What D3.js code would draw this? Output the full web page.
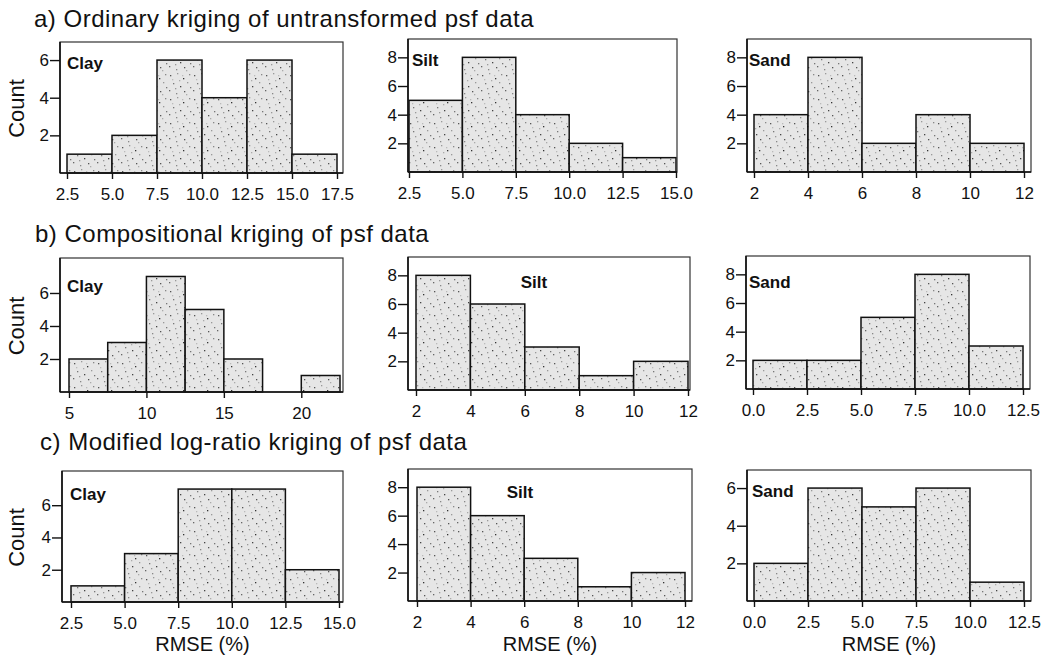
<!DOCTYPE html>
<html>
<head>
<meta charset="utf-8">
<script src="https://cdn.jsdelivr.net/npm/d3@7"></script>
<style>
  body { margin: 0; background: #fff; }
  svg { display: block; font-family: "Liberation Sans", Arial, sans-serif; }
</style>
</head>
<body>
<div id="canvas"></div>
<script>
// row titles
var rowTitles = [
  "a) Ordinary kriging of untransformed psf data",
  "b) Compositional kriging of psf data",
  "c) Modified log-ratio kriging of psf data"
];
var fractions = ["Clay", "Silt", "Sand"];

// bin edges and counts
var clayA_edges = [2.5, 5, 7.5, 10, 12.5, 15, 17.5];
var clayA_counts = [1, 2, 6, 4, 6, 1];
var siltA_edges = [2.5, 5, 7.5, 10, 12.5, 15];
var siltA_counts = [5, 8, 4, 2, 1];
var sandA_edges = [2, 4, 6, 8, 10, 12];
var sandA_counts = [4, 8, 2, 4, 2];

var clayB_edges = [5, 7.5, 10, 12.5, 15, 17.5, 20, 22.5];
var clayB_counts = [2, 3, 7, 5, 2, 0, 1];
var siltB_edges = [2, 4, 6, 8, 10, 12];
var siltB_counts = [8, 6, 3, 1, 2];
var sandB_edges = [0, 2.5, 5, 7.5, 10, 12.5];
var sandB_counts = [2, 2, 5, 8, 3];

var clayC_edges = [2.5, 5, 7.5, 10, 12.5, 15];
var clayC_counts = [1, 3, 7, 7, 2];
var siltC_edges = [2, 4, 6, 8, 10, 12];
var siltC_counts = [8, 6, 3, 1, 2];
var sandC_edges = [0, 2.5, 5, 7.5, 10, 12.5];
var sandC_counts = [2, 6, 5, 6, 1];

// x tick labels
var clayA_ticks = [2.5, 5, 7.5, 10, 12.5, 15, 17.5];
var siltA_ticks = [2.5, 5, 7.5, 10, 12.5, 15];
var sandA_ticks = [2, 4, 6, 8, 10, 12];
var clayB_ticks = [5, 10, 15, 20];
var siltB_ticks = [2, 4, 6, 8, 10, 12];
var sandB_ticks = [0, 2.5, 5, 7.5, 10, 12.5];
var clayC_ticks = [2.5, 5, 7.5, 10, 12.5, 15];
var siltC_ticks = [2, 4, 6, 8, 10, 12];
var sandC_ticks = [0, 2.5, 5, 7.5, 10, 12.5];
var yTicks = [2, 4, 6, 8];

var W = 1054, H = 662;

// panel frames and layout
var panels = [
  {row:0, col:0, edges:clayA_edges, counts:clayA_counts, ticks:clayA_ticks, fmt:".1f", fx:[60,343], fy:[42,173], rx:[67,337], lab:{x:67, y:63}},
  {row:0, col:1, edges:siltA_edges, counts:siltA_counts, ticks:siltA_ticks, fmt:".1f", fx:[408,677], fy:[39,172], rx:[409,676], lab:{x:412, y:60}},
  {row:0, col:2, edges:sandA_edges, counts:sandA_counts, ticks:sandA_ticks, fmt:"d", fx:[747,1031], fy:[39,172], rx:[754,1024], lab:{x:749, y:60}},
  {row:1, col:0, edges:clayB_edges, counts:clayB_counts, ticks:clayB_ticks, fmt:"d", fx:[60,343], fy:[258,392], rx:[69,340], lab:{x:67, y:286}},
  {row:1, col:1, edges:siltB_edges, counts:siltB_counts, ticks:siltB_ticks, fmt:"d", fx:[408,690], fy:[257,390], rx:[416,688], lab:{x:534, y:282, mid:true}},
  {row:1, col:2, edges:sandB_edges, counts:sandB_counts, ticks:sandB_ticks, fmt:".1f", fx:[746,1030], fy:[256,389], rx:[753,1023], lab:{x:749, y:282}},
  {row:2, col:0, edges:clayC_edges, counts:clayC_counts, ticks:clayC_ticks, fmt:".1f", fx:[62,343], fy:[471,602], rx:[71,339], lab:{x:70, y:494}},
  {row:2, col:1, edges:siltC_edges, counts:siltC_counts, ticks:siltC_ticks, fmt:"d", fx:[408,692], fy:[469,601], rx:[417,685], lab:{x:520, y:492, mid:true}},
  {row:2, col:2, edges:sandC_edges, counts:sandC_counts, ticks:sandC_ticks, fmt:".1f", fx:[747,1031], fy:[470,601], rx:[754,1024], lab:{x:752, y:491}}
];

var svg = d3.select("#canvas").append("svg")
  .attr("width", W).attr("height", H);

// stipple texture for the bars
var defs = svg.append("defs");
var pat = defs.append("pattern")
  .attr("id", "stipple")
  .attr("patternUnits", "userSpaceOnUse")
  .attr("width", 24).attr("height", 24);
pat.append("rect").attr("width", 24).attr("height", 24).attr("fill", "#e6e6e6");
var specks = [[2,3,"#555"],[9,1,"#999"],[15,6,"#333"],[21,2,"#888"],[5,11,"#777"],[12,14,"#444"],
              [19,10,"#999"],[1,18,"#666"],[8,21,"#888"],[16,19,"#555"],[22,15,"#777"],[11,8,"#aaa"],
              [4,7,"#bbb"],[18,22,"#aaa"],[7,16,"#999"],[14,3,"#bbb"]];
pat.selectAll("rect.s").data(specks).enter().append("rect")
  .attr("class", "s")
  .attr("x", function(d){ return d[0]; })
  .attr("y", function(d){ return d[1]; })
  .attr("width", 1.3).attr("height", 1.3)
  .attr("fill", function(d){ return d[2]; });

// row titles
var titleY = [27, 242, 450];
var titleX = [34, 35, 40];
svg.selectAll("text.title").data(rowTitles).enter().append("text")
  .attr("class", "title")
  .attr("x", function(d,i){ return titleX[i]; })
  .attr("y", function(d,i){ return titleY[i]; })
  .attr("font-size", "24px")
  .attr("letter-spacing", "0.5px")
  .attr("fill", "#111")
  .text(function(d){ return d; });

panels.forEach(function(p){
  var g = svg.append("g");
  var ymax = d3.max(p.counts) * 1.16;
  var x = d3.scaleLinear().domain([p.edges[0], p.edges[p.edges.length-1]]).range(p.rx);
  var y = d3.scaleLinear().domain([0, ymax]).range([p.fy[1], p.fy[0]]);

  var bins = p.counts.map(function(c, i){ return {x0:p.edges[i], x1:p.edges[i+1], n:c}; })
    .filter(function(b){ return b.n > 0; });

  g.selectAll("rect.bar").data(bins).enter().append("rect")
    .attr("class", "bar")
    .attr("x", function(d){ return x(d.x0); })
    .attr("y", function(d){ return y(d.n); })
    .attr("width", function(d){ return x(d.x1) - x(d.x0); })
    .attr("height", function(d){ return y(0) - y(d.n); })
    .attr("fill", "url(#stipple)")
    .attr("stroke", "#111")
    .attr("stroke-width", 1.5);

  // frame
  g.append("rect")
    .attr("x", p.fx[0]).attr("y", p.fy[0])
    .attr("width", p.fx[1]-p.fx[0]).attr("height", p.fy[1]-p.fy[0])
    .attr("fill", "none").attr("stroke", "#333").attr("stroke-width", 1.2);
  g.append("line")
    .attr("x1", p.fx[0]).attr("x2", p.fx[0]).attr("y1", p.fy[0]).attr("y2", p.fy[1])
    .attr("stroke", "#111").attr("stroke-width", 1.6);
  g.append("line")
    .attr("x1", p.fx[0]).attr("x2", p.fx[1]).attr("y1", p.fy[1]).attr("y2", p.fy[1])
    .attr("stroke", "#111").attr("stroke-width", 1.6);

  // axes
  var yt = yTicks.filter(function(t){ return t <= ymax - 0.5; });
  var ya = g.append("g").attr("transform", "translate(" + p.fx[0] + ",0)")
    .call(d3.axisLeft(y).tickValues(yt).tickFormat(d3.format("d")).tickSize(10).tickPadding(1));
  var xa = g.append("g").attr("transform", "translate(0," + p.fy[1] + ")")
    .call(d3.axisBottom(x).tickValues(p.ticks).tickFormat(d3.format(p.fmt)).tickSize(6).tickPadding(9));
  [ya, xa].forEach(function(a){
    a.select(".domain").remove();
    a.selectAll("line").attr("stroke", "#111").attr("stroke-width", 1.4);
    a.selectAll("text").attr("font-size", "17px").attr("fill", "#111")
      .style("font-family", "\"Liberation Sans\", Arial, sans-serif");
  });

  // fraction label
  g.append("text")
    .attr("x", p.lab.x).attr("y", p.lab.y)
    .attr("dy", "0.35em")
    .attr("text-anchor", p.lab.mid ? "middle" : "start")
    .attr("font-size", "17px").attr("font-weight", "bold").attr("fill", "#111")
    .text(fractions[p.col]);

  if (p.col === 0) {
    var cy = (p.fy[0] + p.fy[1]) / 2 + 1;
    g.append("text")
      .attr("transform", "translate(16," + cy + ") rotate(-90)")
      .attr("text-anchor", "middle").attr("dy", "0.35em")
      .attr("font-size", "22px").attr("fill", "#111")
      .text("Count");
  }
  if (p.row === 2) {
    g.append("text")
      .attr("x", (p.fx[0] + p.fx[1]) / 2).attr("y", 651)
      .attr("text-anchor", "middle")
      .attr("font-size", "20px").attr("fill", "#111")
      .text("RMSE (%)");
  }
});
</script>
</body>
</html>
